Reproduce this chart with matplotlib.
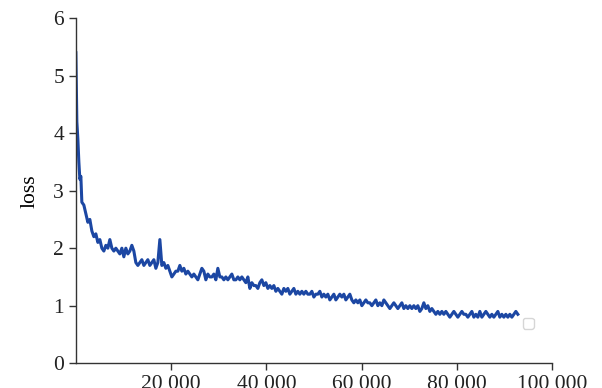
import matplotlib
matplotlib.use("Agg")
import matplotlib.pyplot as plt

# training steps
steps = [0, 210, 420, 630, 840, 1050, 1260,
         1680, 2100, 2520, 2940, 3360, 3780, 4200, 4620, 5040, 5460,
         5880, 6300, 6720, 7140, 7560, 7980, 8400, 8820, 9240, 9660,
         10080, 10500, 10920, 11340, 11760, 12180, 12600, 13020, 13440, 13860,
         14280, 14700, 15120, 15540, 15960, 16380, 16800, 17220, 17640, 18060,
         18480, 18900, 19320, 19740, 20160, 20580, 21000, 21420, 21840, 22260,
         22680, 23100, 23520, 23940, 24360, 24780, 25200, 25620, 26040, 26460,
         26880, 27300, 27720, 28140, 28560, 28980, 29400, 29820, 30240, 30660,
         31080, 31500, 31920, 32340, 32760, 33180, 33600, 34020, 34440, 34860,
         35280, 35700, 36120, 36540, 36960, 37380, 37800, 38220, 38640, 39060,
         39480, 39900, 40320, 40740, 41160, 41580, 42000, 42420, 42840, 43260,
         43680, 44100, 44520, 44940, 45360, 45780, 46200, 46620, 47040, 47460,
         47880, 48300, 48720, 49140, 49560, 49980, 50400, 50820, 51240, 51660,
         52080, 52500, 52920, 53340, 53760, 54180, 54600, 55020, 55440, 55860,
         56280, 56700, 57120, 57540, 57960, 58380, 58800, 59220, 59640, 60060,
         60480, 60900, 61320, 61740, 62160, 62580, 63000, 63420, 63840, 64260,
         64680, 65100, 65520, 65940, 66360, 66780, 67200, 67620, 68040, 68460,
         68880, 69300, 69720, 70140, 70560, 70980, 71400, 71820, 72240, 72660,
         73080, 73500, 73920, 74340, 74760, 75180, 75600, 76020, 76440, 76860,
         77280, 77700, 78120, 78540, 78960, 79380, 79800, 80220, 80640, 81060,
         81480, 81900, 82320, 82740, 83160, 83580, 84000, 84420, 84840, 85260,
         85680, 86100, 86520, 86940, 87360, 87780, 88200, 88620, 89040, 89460,
         89880, 90300, 90720, 91140, 91560, 91980, 92400, 92820]

loss = [5.4, 4.2, 3.9, 3.5, 3.2, 3.25, 2.8,
        2.75, 2.6, 2.45, 2.5, 2.3, 2.2, 2.25, 2.1, 2.15, 2.0,
        1.95, 2.05, 2.0, 2.15, 2.0, 1.95, 2.0, 1.95, 1.9, 2.0,
        1.85, 2.0, 1.9, 1.95, 2.05, 1.95, 1.75, 1.7, 1.75, 1.8,
        1.7, 1.75, 1.8, 1.7, 1.75, 1.8, 1.65, 1.75, 2.15, 1.7,
        1.75, 1.65, 1.7, 1.6, 1.5, 1.55, 1.6, 1.6, 1.7, 1.6,
        1.65, 1.55, 1.6, 1.55, 1.5, 1.55, 1.5, 1.45, 1.55, 1.65,
        1.6, 1.45, 1.55, 1.5, 1.5, 1.55, 1.45, 1.65, 1.5, 1.5,
        1.45, 1.5, 1.45, 1.5, 1.55, 1.45, 1.45, 1.5, 1.45, 1.5,
        1.45, 1.4, 1.5, 1.3, 1.4, 1.35, 1.35, 1.3, 1.4, 1.45,
        1.35, 1.4, 1.3, 1.35, 1.3, 1.35, 1.25, 1.3, 1.25, 1.2,
        1.3, 1.25, 1.3, 1.2, 1.25, 1.3, 1.2, 1.25, 1.2, 1.25,
        1.2, 1.25, 1.2, 1.2, 1.25, 1.15, 1.2, 1.2, 1.25, 1.15,
        1.2, 1.15, 1.2, 1.1, 1.15, 1.2, 1.1, 1.15, 1.2, 1.15,
        1.2, 1.1, 1.15, 1.2, 1.1, 1.05, 1.1, 1.05, 1.1, 1.0,
        1.05, 1.1, 1.05, 1.05, 1.0, 1.05, 1.1, 1.0, 1.05, 1.0,
        1.1, 1.05, 1.0, 0.95, 1.0, 1.05, 1.0, 0.95, 1.0, 1.05,
        0.95, 1.0, 0.95, 1.0, 0.95, 1.0, 0.95, 1.0, 0.9, 0.95,
        1.05, 0.95, 1.0, 0.9, 0.95, 0.9, 0.85, 0.9, 0.85, 0.9,
        0.85, 0.9, 0.85, 0.8, 0.85, 0.9, 0.85, 0.8, 0.85, 0.9,
        0.85, 0.85, 0.8, 0.85, 0.9, 0.8, 0.85, 0.8, 0.9, 0.8,
        0.85, 0.9, 0.85, 0.8, 0.85, 0.8, 0.85, 0.9, 0.8, 0.85,
        0.8, 0.85, 0.8, 0.85, 0.8, 0.85, 0.9, 0.85]

x_ticks = [20000, 40000, 60000, 80000, 100000]
x_labels = ["20 000", "40 000", "60 000", "80 000", "100 000"]
y_ticks = [0, 1, 2, 3, 4, 5, 6]

plt.rcParams['font.family'] = ['Liberation Serif', 'DejaVu Serif']

fig = plt.figure(figsize=(6.02, 3.88), dpi=100)
ax = fig.add_axes([0.126, 0.064, 0.791, 0.889])

ax.plot(steps, loss, color='#1c47a3', lw=2.2)

ax.set_xlim(0, 100000)
ax.set_ylim(0, 6)
ax.set_xticks(x_ticks)
ax.set_xticklabels(x_labels)
ax.set_yticks(y_ticks)
ax.set_ylabel("loss", fontsize=15.5, labelpad=10)

for s in ['top', 'right']:
    ax.spines[s].set_visible(False)
for s in ['left', 'bottom']:
    ax.spines[s].set_color('#333333')
    ax.spines[s].set_linewidth(1.0)
ax.tick_params(direction='out', length=5, width=1, colors='#333333',
               labelsize=15.5, labelcolor='#222222')

# empty legend box, as in the original
ax.legend(handles=[], loc='center', bbox_to_anchor=(0.95, 0.116),
          frameon=True, fancybox=True, edgecolor='#cccccc')

fig.savefig("out.png", dpi=100)
